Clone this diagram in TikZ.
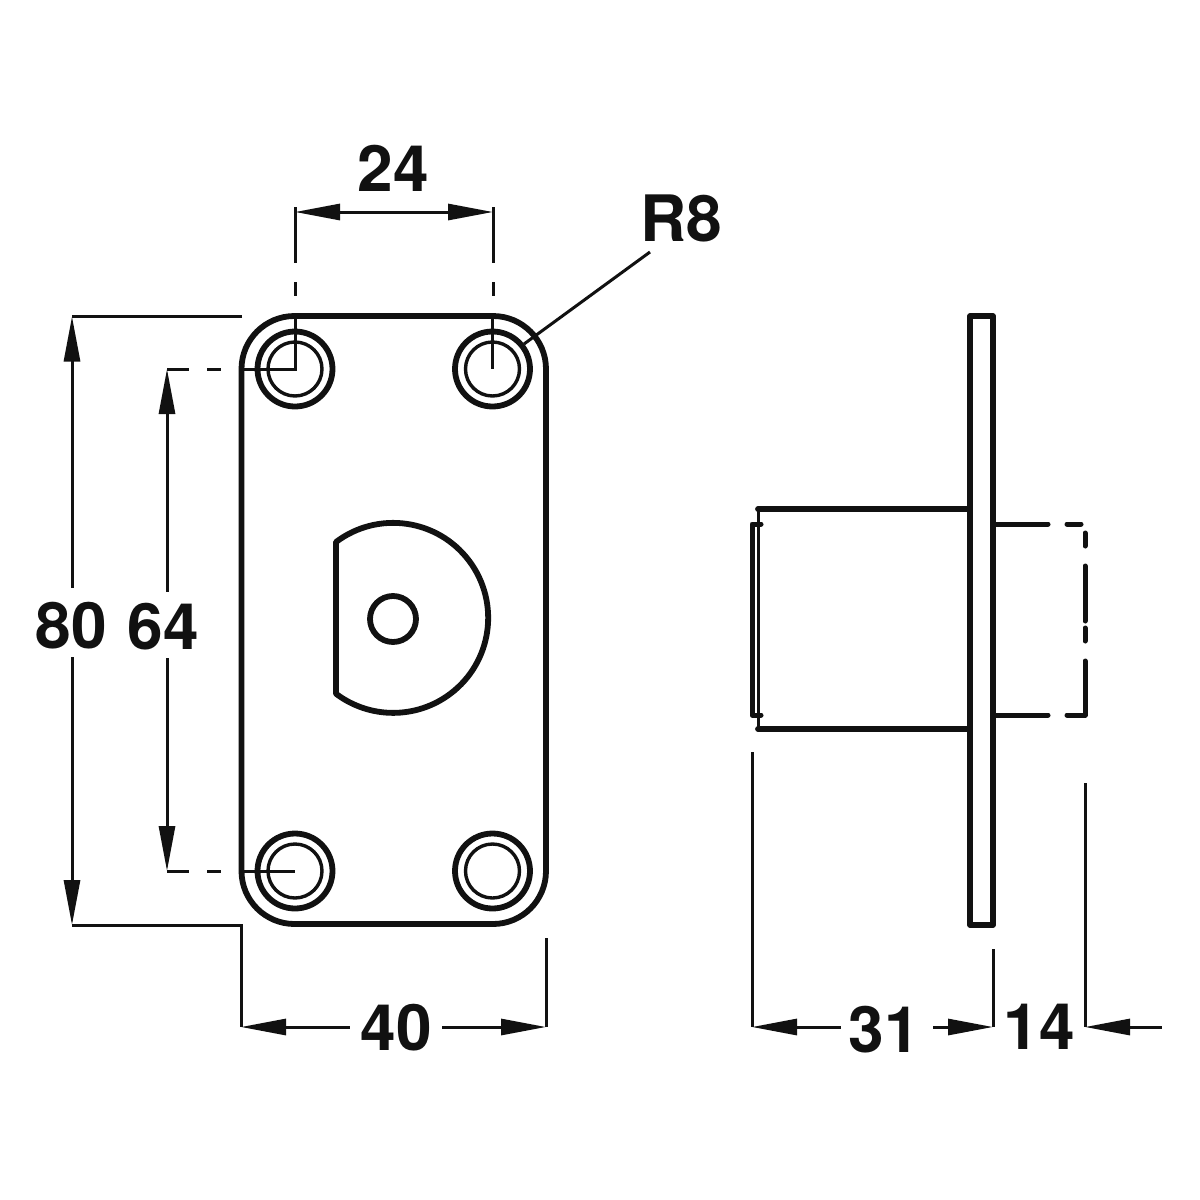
\documentclass[tikz,border=0pt]{standalone}
\usepackage{fontspec}
\setmainfont{TeX Gyre Heros}
\usetikzlibrary{arrows.meta}
\definecolor{ink}{HTML}{111111}
\tikzset{
  thick outline/.style={draw=ink,line width=5.8pt},
  mid outline/.style={draw=ink,line width=5pt,line cap=round,line join=round},
  thin inner/.style={draw=ink,line width=3pt},
  dimline/.style={draw=ink,line width=3pt},
  tip l/.style={{Triangle[length=45pt,width=16pt]}-},
  tip r/.style={-{Triangle[length=45pt,width=16pt]}},
  tip both/.style={{Triangle[length=45pt,width=16pt]}-{Triangle[length=45pt,width=16pt]}},
  lab/.style={font=\fontsize{64}{64}\selectfont\bfseries,text=ink,anchor=base,inner sep=0pt,outer sep=0pt},
  hole outer/.style={draw=ink,line width=5.8pt},
  hole inner/.style={draw=ink,line width=3.4pt}
}
\begin{document}
\begin{tikzpicture}[x=1pt,y=-1pt]
\useasboundingbox[fill=white] (0,0) rectangle (1200,1200);
% ---- front view ----
\draw[thick outline,rounded corners=53pt] (241.5,316) rectangle (546,924);
\foreach \cx/\cy in {295/369,492.5/369,295/871,492.5/871}{
  \draw[hole outer] (\cx,\cy) circle[radius=37.5];
  \draw[hole inner] (\cx,\cy) circle[radius=27];
}
\draw[thin inner] (295,316) -- (295,369) -- (241,369);
\draw[thin inner] (492.5,316) -- (492.5,369);
\draw[thin inner] (241,871) -- (295,871);
% cam
\draw[thick outline,line join=round] (336,542) arc[start angle=-127,end angle=127,radius=95] -- cycle;
\draw[thick outline] (393,619) circle[radius=23];
% ---- side view ----
\draw[thick outline,line join=round] (970,316) rectangle (993,925);
\draw[thick outline,line cap=round] (758,509) -- (970,509);
\draw[thick outline,line cap=round] (758,729) -- (970,729);
\draw[thin inner] (758,509) -- (758,729);
\draw[mid outline] (761,524) -- (752,524) -- (752,715) -- (761,715);
% dashed hidden part
\draw[mid outline] (993,524) -- (1048,524);
\draw[mid outline] (1067,524) -- (1081,524);
\draw[mid outline] (993,715) -- (1048,715);
\draw[mid outline] (1067,715) -- (1085,715) -- (1085,661);
\draw[mid outline] (1085,533) -- (1085,546);
\draw[mid outline] (1085,566) -- (1085,621);
\draw[mid outline] (1085,628) -- (1085,641);
% ---- labels ----
\node[lab] (d24) at (393,191) {24};
\node[lab] (dR8) at (681,241) {R8};
\node[lab] (d80) at (71,648) {80};
\node[lab] (d64) at (163,649) {64};
\node[lab] (d40) at (396,1050) {40};
\node[lab] (d31) at (884,1052) {31};
\node[lab] (d14) at (1039,1049) {14};
% ---- dimension 24 ----
\coordinate (a24l) at (295,212); \coordinate (a24r) at (493,212);
\draw[dimline,tip both] (a24l) -- (a24r);
\draw[dimline] (295,207) -- (295,263);
\draw[dimline] (493,207) -- (493,263);
\draw[dimline] (295,282) -- (295,296);
\draw[dimline] (493,282) -- (493,296);
% ---- leader R8 ----
\coordinate (r8a) at (650,252); \coordinate (r8b) at (524,344);
\draw[dimline] (r8a) -- (r8b);
% ---- dimension 80 ----
\coordinate (a80t) at (72,316.5); \coordinate (a80b) at (72,925);
\draw[dimline] (242,316.5) -- (a80t);
\draw[dimline,tip l] (a80t) -- (72,588);
\draw[dimline,tip r] (72,657) -- (a80b);
\draw[dimline,line join=miter] (a80b) -- (241,925) -- (241,1027);
% ---- dimension 64 ----
\coordinate (a64t) at (167,369); \coordinate (a64b) at (167,871);
\draw[dimline,tip l] (a64t) -- (167,592);
\draw[dimline,tip r] (167,658) -- (a64b);
\draw[dimline] (a64t) -- (189,369);
\draw[dimline] (207,369) -- (221,369);
\draw[dimline] (a64b) -- (189,871);
\draw[dimline] (207,871) -- (221,871);
% ---- dimension 40 ----
\coordinate (a40l) at (241,1027); \coordinate (a40r) at (546,1027);
\draw[dimline,tip l] (a40l) -- (350,1027);
\draw[dimline,tip r] (442,1027) -- (a40r);
\draw[dimline] (546,938) -- (a40r);
% ---- dimension 31 ----
\coordinate (a31l) at (752,1027); \coordinate (a31r) at (993,1027);
\draw[dimline] (752,752) -- (a31l);
\draw[dimline,tip l] (a31l) -- (841,1027);
\draw[dimline,tip r] (933,1027) -- (a31r);
\draw[dimline] (993,949) -- (a31r);
% ---- dimension 14 ----
\coordinate (a14) at (1085,1027);
\draw[dimline] (1085,783) -- (a14);
\draw[dimline,tip l] (a14) -- (1162,1027);
\end{tikzpicture}
\end{document}
